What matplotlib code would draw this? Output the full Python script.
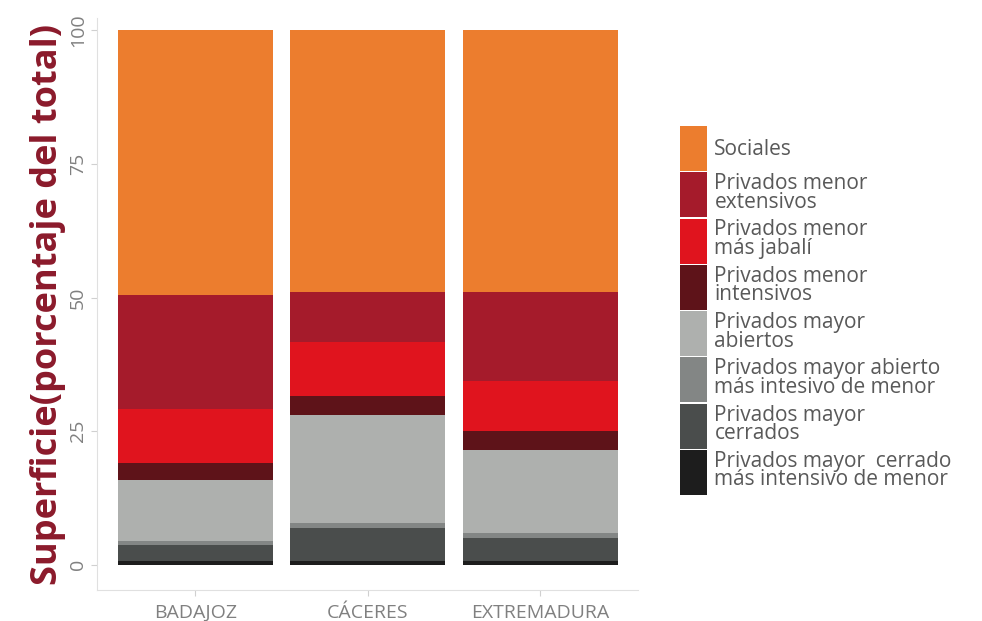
import matplotlib
matplotlib.use("Agg")
import matplotlib.pyplot as plt
import numpy as np

plt.rcParams['font.family'] = ['Open Sans', 'DejaVu Sans']

categories = ["BADAJOZ", "CÁCERES", "EXTREMADURA"]
series_labels = [
    "Privados mayor  cerrado\nmás intensivo de menor",
    "Privados mayor\ncerrados",
    "Privados mayor abierto\nmás intesivo de menor",
    "Privados mayor\nabiertos",
    "Privados menor\nintensivos",
    "Privados menor\nmás jabalí",
    "Privados menor\nextensivos",
    "Sociales",
]
values = {
    "cerrado_int": [0.7, 0.7, 0.7],
    "cerrados": [3.05, 6.2, 4.4],
    "abierto_int": [0.75, 1.0, 0.9],
    "abiertos": [11.4, 20.2, 15.4],
    "intensivos": [3.2, 3.4, 3.6],
    "jabali": [10.0, 10.1, 9.3],
    "extensivos": [21.4, 9.4, 16.7],
    "sociales": [49.5, 49.0, 49.0],
}
colors = ["#1d1d1d", "#4a4d4c", "#838685", "#aeb0ae", "#5e1319", "#e0141e", "#a51b2b", "#ec7d2e"]
yticks = [0, 25, 50, 75, 100]

fig = plt.figure(figsize=(9.82, 6.21), dpi=100)
ax = fig.add_axes([0.099, 0.05, 0.551, 0.921])

x = np.arange(1, len(categories) + 1)
bottom = np.zeros(len(categories))
handles = []
for (key, vals), col, lab in zip(values.items(), colors, series_labels):
    b = ax.bar(x, vals, bottom=bottom, width=0.9, color=col, label=lab, linewidth=0)
    handles.append(b)
    bottom += np.array(vals)

ax.set_xlim(0.43, 3.57)
ax.set_ylim(-4.7, 102.3)
ax.set_xticks(x)
ax.set_xticklabels(categories, fontsize=14, color="#7f7f7f")
ax.set_yticks(yticks)
ax.set_yticklabels([str(t) for t in yticks], fontsize=14, color="#8c8c8c", rotation=90, va="center")
ax.tick_params(axis="both", colors="#d0d0d0", labelcolor="#808080", length=4)
ax.tick_params(axis="x", pad=6)
for s in ["top", "right"]:
    ax.spines[s].set_visible(False)
for s in ["left", "bottom"]:
    ax.spines[s].set_color("#e0e0e0")
ax.set_ylabel("Superficie(porcentaje del total)", fontsize=26, fontweight="bold", color="#8b1a2b", labelpad=2)

leg = fig.legend(handles[::-1], series_labels[::-1], loc="center left", bbox_to_anchor=(0.684, 0.5),
                 frameon=False, fontsize=15, handlelength=1.3, handleheight=2.95, labelspacing=0.06,
                 handletextpad=0.35, borderaxespad=0)
for t in leg.get_texts():
    t.set_color("#595959")
    t.set_linespacing(0.85)

fig.savefig("out.png", dpi=100)
